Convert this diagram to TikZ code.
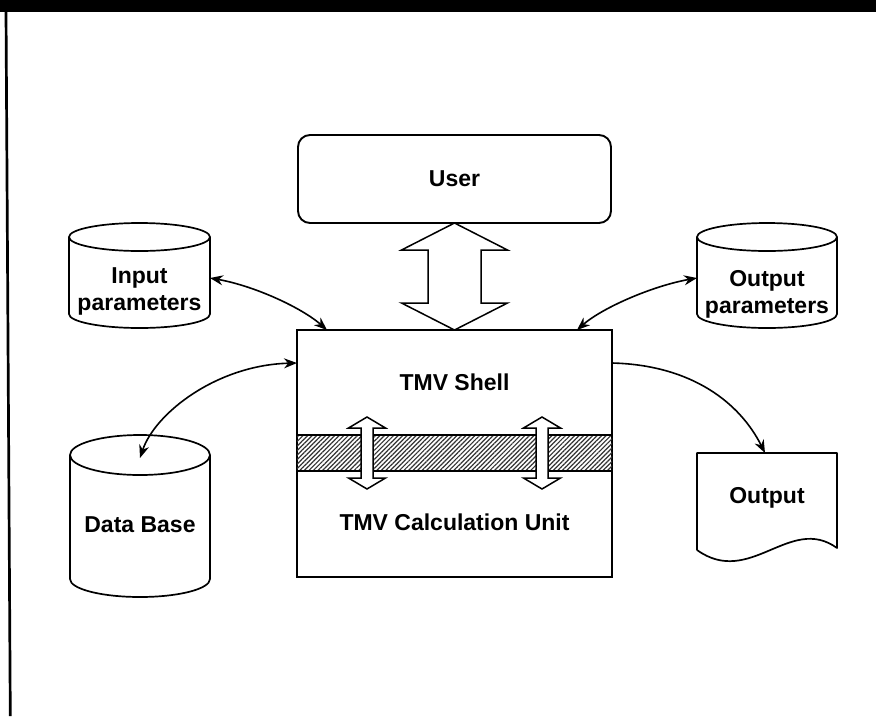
\documentclass[tikz,border=0pt]{standalone}
\usepackage{fontspec}
\setmainfont{Liberation Sans}
\usetikzlibrary{arrows.meta,patterns.meta}

\tikzset{
  lbl/.style={font=\fontsize{23}{27}\selectfont\bfseries, align=center, inner sep=0pt},
  frame/.style={draw, line width=1.9pt, outer sep=0pt, inner sep=0pt},
  ghost/.style={draw=none, outer sep=0pt, inner sep=0pt},
  outline/.style={draw, line width=1.7pt, line join=round},
  hollow/.style={draw, fill=white, line width=1.5pt, line join=miter},
  tip/.tip={Stealth[length=13pt,width=10pt]},
  link/.style={line width=1.6pt, tip-tip},
  feed/.style={line width=1.6pt, -tip},
}

\begin{document}
\begin{tikzpicture}[x=1pt,y=1pt]
\useasboundingbox (0,0) rectangle (876,-716);

% page rule at the top and the left margin line
\fill (0,0) rectangle (876,-12);
\draw[line width=2.7pt] (6,-11) -- (10.3,-716);

% main blocks
\node[frame, rounded corners=12pt, minimum width=313pt, minimum height=88pt] (user) at (454.5,-179) {};
\node[lbl] (usertxt) at (454.5,-179) {User};

\node[frame, minimum width=315pt, minimum height=247pt] (tmv) at (454.5,-453.5) {};

% hatched interface band between the shell and the calculation unit
\fill[pattern={Lines[angle=45,distance=3.2pt,line width=1.2pt]}, pattern color=black!80]
  (297,-435) rectangle (612,-471);
\draw[line width=1.5pt] (297,-435) -- (612,-435) (297,-471) -- (612,-471);

\node[lbl, anchor=base] (shell) at (454.5,-390) {TMV Shell};
\node[lbl, anchor=base] (calc) at (454.5,-530) {TMV Calculation Unit};

% exchange arrows crossing the band
\foreach \cx in {367,542}{
  \draw[hollow] (\cx,-417) -- (\cx+18.5,-428) -- (\cx+6,-428) -- (\cx+6,-478)
    -- (\cx+18.5,-478) -- (\cx,-489) -- (\cx-18.5,-478) -- (\cx-6,-478)
    -- (\cx-6,-428) -- (\cx-18.5,-428) -- cycle;
}

% wide two-way arrow between user and shell
\draw[hollow] (user.south) -- ++(53,-27) -- ++(-26.5,0) -- ++(0,-53) -- ++(26.5,0)
  -- (tmv.north) -- ++(-53,27) -- ++(26.5,0) -- ++(0,53) -- ++(-26.5,0) -- cycle;

% input parameters drum
\node[ghost, minimum width=141pt, minimum height=105pt] (inp) at (139.5,-275.5) {};
\draw[outline] ([yshift=-14pt]inp.north) ellipse [x radius=70.5, y radius=14];
\draw[outline] ([yshift=-14pt]inp.north west) -- ([yshift=14pt]inp.south west)
  arc[start angle=180, end angle=360, x radius=70.5, y radius=14] -- ([yshift=-14pt]inp.north east);
\node[lbl] (inptxt) at (139.5,-291.5) {Input\\parameters};

% output parameters drum
\node[ghost, minimum width=140pt, minimum height=105pt] (outp) at (767,-275.5) {};
\draw[outline] ([yshift=-14pt]outp.north) ellipse [x radius=70, y radius=14];
\draw[outline] ([yshift=-14pt]outp.north west) -- ([yshift=14pt]outp.south west)
  arc[start angle=180, end angle=360, x radius=70, y radius=14] -- ([yshift=-14pt]outp.north east);
\node[lbl] (outptxt) at (767,-294.5) {Output\\parameters};

% data base drum
\node[ghost, minimum width=140pt, minimum height=162pt] (db) at (140,-516) {};
\draw[outline] ([yshift=-20pt]db.north) ellipse [x radius=70, y radius=20];
\draw[outline] ([yshift=-20pt]db.north west) -- ([yshift=18pt]db.south west)
  arc[start angle=180, end angle=360, x radius=70, y radius=18] -- ([yshift=-20pt]db.north east);
\node[lbl, anchor=base] (dbtxt) at (140,-532) {Data Base};

% printed output document
\node[ghost, minimum width=140pt, minimum height=109pt] (outdoc) at (767,-507.5) {};
\draw[outline] (697,-550) -- (697,-453) -- (837,-453) -- (837,-548)
  .. controls (790,-514) and (750,-588) .. (697,-550);
\node[lbl, anchor=base] (outdoctxt) at (767,-503) {Output};

% connectors
\draw[link] ([yshift=-2.5pt]inp.east) .. controls +(45,-8) and +(-25,22) .. ([xshift=30pt]tmv.north west);
\draw[link] ([yshift=-2.5pt]outp.west) .. controls +(-45,-8) and +(25,22) .. ([xshift=-35pt]tmv.north east);
\draw[link] ([yshift=-33pt]tmv.north west) .. controls +(-80,-2) and +(15,45) .. ([yshift=-23pt]db.north);
\draw[feed] ([yshift=-33pt]tmv.north east) .. controls +(80,-2) and +(-25,50) .. ([xshift=-2pt]outdoc.north);
\end{tikzpicture}
\end{document}
